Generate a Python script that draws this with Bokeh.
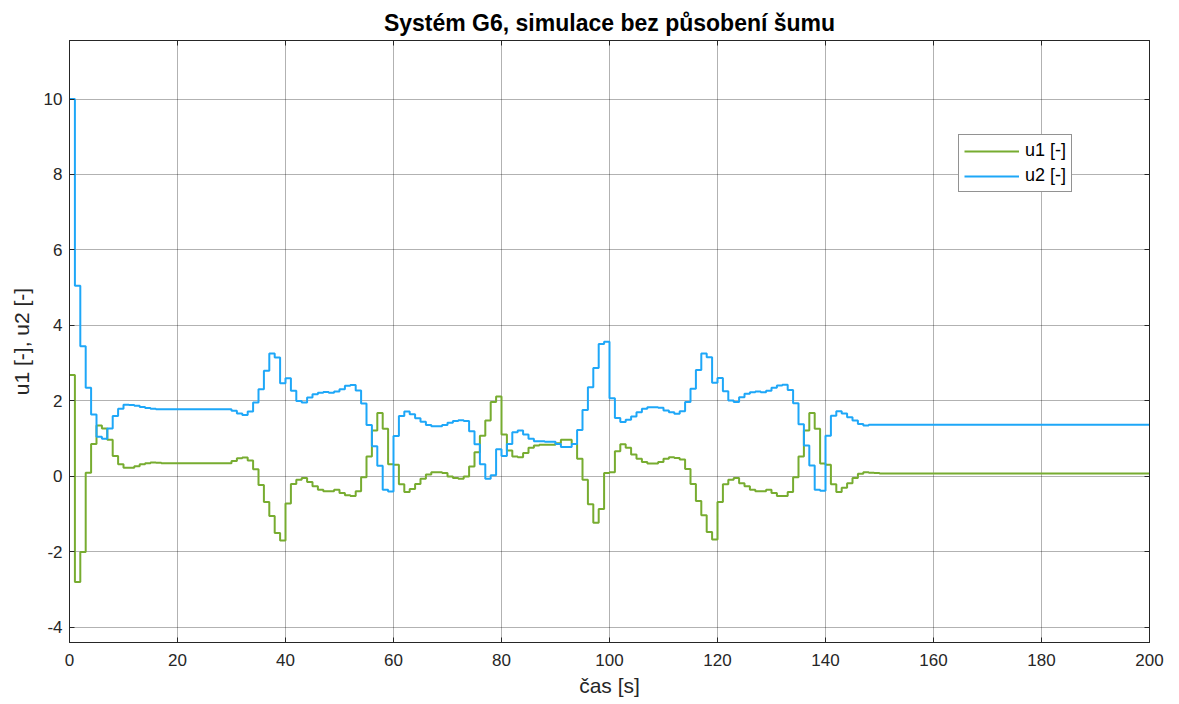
from bokeh.plotting import figure
from bokeh.models import Range1d, LinearAxis, FixedTicker, Legend, LegendItem
from bokeh.embed import file_html
from bokeh.resources import INLINE

# sample times [s]
t = list(range(0, 151)) + [200]

# u1 [-] (green)
u1 = [2.69, -2.8, -2.0, 0.1, 0.86, 1.35, 1.27, 0.97, 0.54, 0.32,
      0.23, 0.23, 0.27, 0.32, 0.35, 0.37, 0.36, 0.35, 0.35, 0.35,
      0.35, 0.35, 0.35, 0.35, 0.35, 0.35, 0.35, 0.35, 0.35, 0.35,
      0.41, 0.48, 0.5, 0.42, 0.19, -0.23, -0.68, -1.05, -1.5, -1.7,
      -0.72, -0.2, -0.09, -0.04, -0.15, -0.26, -0.35, -0.39, -0.39, -0.35,
      -0.44, -0.5, -0.52, -0.39, -0.02, 0.53, 1.22, 1.68, 1.26, 0.32,
      0.31, -0.21, -0.41, -0.33, -0.2, -0.06, 0.05, 0.11, 0.11, 0.09,
      0.0, -0.04, -0.06, 0.0, 0.26, 0.64, 1.08, 1.48, 1.97, 2.12,
      1.11, 0.69, 0.53, 0.51, 0.62, 0.76, 0.82, 0.84, 0.84, 0.84,
      0.88, 0.97, 0.97, 0.86, 0.47, -0.09, -0.74, -1.23, -0.86, 0.09,
      0.11, 0.67, 0.85, 0.76, 0.58, 0.47, 0.38, 0.34, 0.34, 0.38,
      0.47, 0.51, 0.49, 0.45, 0.2, -0.2, -0.65, -1.03, -1.47, -1.67,
      -0.68, -0.21, -0.09, -0.04, -0.18, -0.26, -0.35, -0.39, -0.39, -0.35,
      -0.44, -0.52, -0.52, -0.41, -0.02, 0.53, 1.22, 1.68, 1.26, 0.34,
      0.31, -0.21, -0.41, -0.3, -0.18, -0.04, 0.07, 0.11, 0.1, 0.09,
      0.08, 0.08]

# u2 [-] (blue)
u2 = [10.0, 5.05, 3.45, 2.35, 1.64, 1.05, 1.0, 1.27, 1.6, 1.79,
      1.9, 1.89, 1.87, 1.84, 1.81, 1.79, 1.78, 1.78, 1.78, 1.78,
      1.78, 1.78, 1.78, 1.78, 1.78, 1.78, 1.78, 1.78, 1.78, 1.78,
      1.74, 1.67, 1.63, 1.72, 1.96, 2.31, 2.8, 3.26, 3.15, 2.47,
      2.6, 2.27, 2.0, 1.96, 2.09, 2.18, 2.22, 2.24, 2.22, 2.25,
      2.31, 2.4, 2.42, 2.28, 1.93, 1.36, 0.8, 0.28, -0.35, -0.4,
      1.07, 1.6, 1.72, 1.65, 1.54, 1.45, 1.36, 1.33, 1.33, 1.36,
      1.42, 1.47, 1.49, 1.47, 1.2, 0.85, 0.32, -0.06, 0.03, 0.72,
      0.54, 0.86, 1.17, 1.22, 1.11, 1.0, 0.93, 0.93, 0.92, 0.92,
      0.86, 0.78, 0.78, 0.86, 1.23, 1.76, 2.36, 2.87, 3.51, 3.57,
      2.07, 1.55, 1.44, 1.5, 1.59, 1.7, 1.79, 1.83, 1.83, 1.82,
      1.75, 1.7, 1.66, 1.73, 1.97, 2.32, 2.82, 3.26, 3.16, 2.48,
      2.61, 2.26, 2.01, 1.97, 2.1, 2.19, 2.23, 2.25, 2.23, 2.27,
      2.35, 2.41, 2.43, 2.29, 1.94, 1.38, 0.82, 0.29, -0.35, -0.38,
      1.08, 1.61, 1.73, 1.67, 1.57, 1.48, 1.39, 1.35, 1.37, 1.37,
      1.37, 1.37]

x_ticks = [0, 20, 40, 60, 80, 100, 120, 140, 160, 180, 200]
y_ticks = [-4, -2, 0, 2, 4, 6, 8, 10]

FONT = "Liberation Sans"
DARK = "#262626"

p = figure(width=1179, height=704, output_backend="svg", toolbar_location=None,
           x_range=Range1d(0, 200), y_range=Range1d(-4.4, 11.55),
           min_border_left=69, min_border_right=30, min_border_top=40,
           min_border_bottom=62, background_fill_color="white",
           border_fill_color="white")

p.title.text = "Systém G6, simulace bez působení šumu"
p.title.text_font = FONT
p.title.text_font_size = "23px"
p.title.text_font_style = "bold"
p.title.text_color = "#000000"
p.title.align = "center"
p.title.standoff = 10

p.outline_line_color = DARK
p.outline_line_width = 1

for ax, ticks in ((p.xaxis[0], x_ticks), (p.yaxis[0], y_ticks)):
    ax.ticker = FixedTicker(ticks=ticks)
    ax.major_label_overrides = {v: str(v) for v in ticks}
    ax.major_tick_in = 5
    ax.major_tick_out = 0
    ax.minor_tick_line_color = None
    ax.axis_line_color = DARK
    ax.major_tick_line_color = DARK
    ax.major_label_text_font = FONT
    ax.major_label_text_font_size = "17px"
    ax.major_label_text_color = DARK
    ax.axis_label_text_font = FONT
    ax.axis_label_text_font_size = "21px"
    ax.axis_label_text_font_style = "normal"
    ax.axis_label_text_color = DARK

p.xaxis[0].axis_label = "čas [s]"
p.yaxis[0].axis_label = "u1 [-], u2 [-]"
p.xaxis[0].major_label_standoff = 11
p.yaxis[0].major_label_standoff = 7
p.xaxis[0].axis_label_standoff = 5
p.yaxis[0].axis_label_standoff = 8

for side, ticks in (("right", y_ticks), ("above", x_ticks)):
    ax = LinearAxis(ticker=FixedTicker(ticks=ticks), major_tick_in=5,
                    major_tick_out=0, minor_tick_line_color=None,
                    axis_line_color=DARK, major_tick_line_color=DARK,
                    major_label_text_font_size="1px",
                    major_label_text_color=None, major_label_standoff=0)
    p.add_layout(ax, side)

p.xgrid.ticker = FixedTicker(ticks=x_ticks)
p.ygrid.ticker = FixedTicker(ticks=y_ticks)
for g in (p.xgrid[0], p.ygrid[0]):
    g.grid_line_color = "#000000"
    g.grid_line_alpha = 0.3
    g.grid_line_width = 1

r1 = p.step(t, u1, mode="after", line_color="#77ac30", line_width=2)
r2 = p.step(t, u2, mode="after", line_color="#1ea7f8", line_width=2)

legend = Legend(items=[LegendItem(label="u1 [-]", renderers=[r1]),
                       LegendItem(label="u2 [-]", renderers=[r2])],
                location=(889, 450), orientation="vertical",
                glyph_width=55, glyph_height=20, label_height=20,
                label_standoff=6, spacing=4, padding=5, margin=0,
                label_text_font=FONT, label_text_font_size="18px",
                label_text_color="#000000",
                border_line_color=DARK, border_line_width=1,
                background_fill_color="white", background_fill_alpha=1)
p.add_layout(legend, "center")

open("out.html", "w").write(file_html(p, INLINE))
